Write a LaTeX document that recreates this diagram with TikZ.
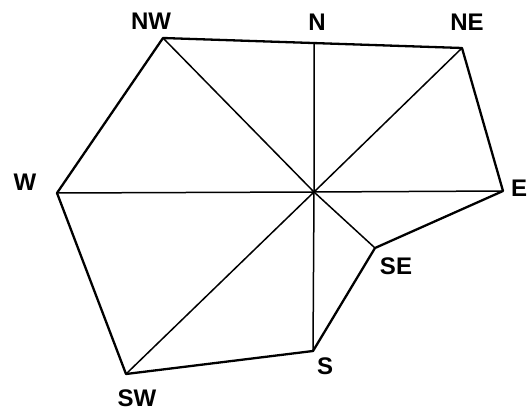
\documentclass[tikz,border=0pt]{standalone}
\usepackage{fontspec}
\setmainfont{Liberation Sans}
\usetikzlibrary{calc}
\begin{document}
\begin{tikzpicture}[x=1pt,y=-1pt,
  edge/.style={line width=2.3pt,line join=round,line cap=round},
  spoke/.style={line width=1.5pt},
  lbl/.style={font=\fontsize{24}{26}\selectfont\bfseries,inner sep=0pt}]
\useasboundingbox (0,0) rectangle (530,412);
\coordinate (C) at (314,192);
\coordinate (NW) at (163,38);
\coordinate (NE) at (462,48);
\coordinate (E) at (503,191);
\coordinate (SE) at (375,248);
\coordinate (S) at (313,351);
\coordinate (SW) at (126,374);
\coordinate (W) at (57,193);
\coordinate (N) at ($(NW)!0.505!(NE)$);
\draw[edge] (NW) -- (NE) -- (E) -- (SE) -- (S) -- (SW) -- (W) -- cycle;
\foreach \p in {NW,N,NE,E,SE,S,SW,W} \draw[spoke] (C) -- (\p);
\node[lbl] (lNW) at (151,21) {NW};
\node[lbl] (lN) at (317,22) {N};
\node[lbl] (lNE) at (467,22) {NE};
\node[lbl] (lE) at (519,188) {E};
\node[lbl] (lSE) at (396,266) {SE};
\node[lbl] (lS) at (325,366) {S};
\node[lbl] (lSW) at (137,398) {SW};
\node[lbl] (lW) at (25,182) {W};
\end{tikzpicture}
\end{document}
